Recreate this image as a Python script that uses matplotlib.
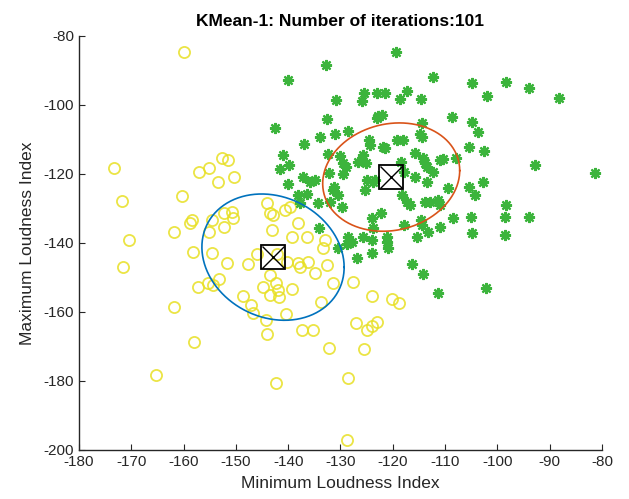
import numpy as np
import matplotlib
matplotlib.use("Agg")
from matplotlib import pyplot as plt

# cluster 1 (yellow circles)
yellow_x = [-159.9, -173.3, -171.8, -170.4, -160.3, -157.1, -155.1, -153.4, -152.7, -151.5,
            -150.4, -158.4, -158.8, -161.8, -155.1, -154.6, -152.3, -152.3, -150.7, -150.5,
            -144.1, -143.5, -140.6, -139.7, -143.1, -138.1, -139.3, -136.4, -133.0, -142.9,
            -171.6, -158.2, -154.6, -151.7, -147.7, -146.0, -157.2, -155.3, -154.4, -153.2,
            -161.8, -148.6, -147.1, -146.7, -144.8, -143.5, -142.3, -141.9, -141.8, -143.5,
            -139.3, -140.2, -144.2, -144.1, -140.4, -138.1, -137.7, -136.2, -134.9, -132.6,
            -133.3, -131.4, -133.7, -137.4, -135.3, -132.2, -158.0, -165.3, -142.3, -142.1,
            -127.6, -124.0, -120.2, -118.8, -127.0, -124.9, -124.0, -123.0, -125.5, -128.6,
            -128.8]
yellow_y = [-84.6, -118.3, -127.8, -139.1, -126.4, -119.4, -118.3, -122.3, -115.4, -115.9,
            -120.9, -133.3, -134.2, -136.8, -136.8, -133.3, -131.3, -135.4, -131.0, -132.8,
            -128.4, -131.3, -130.4, -129.6, -136.2, -134.2, -138.3, -138.3, -139.1, -131.9,
            -147.0, -142.6, -142.9, -145.8, -146.1, -143.2, -152.8, -151.6, -152.2, -150.4,
            -158.6, -155.4, -158.0, -160.3, -152.8, -149.3, -151.6, -153.6, -155.7, -155.1,
            -153.3, -145.5, -162.3, -166.4, -160.6, -145.8, -147.0, -145.5, -148.7, -146.4,
            -141.4, -151.6, -157.1, -165.2, -165.2, -170.4, -168.7, -178.3, -180.6, -143.2,
            -151.3, -155.4, -156.2, -157.4, -163.2, -165.2, -164.1, -162.9, -170.7, -179.1,
            -197.1]

# cluster 2 (green asterisks)
green_x = [-119.4, -132.8, -140.0, -112.3, -104.9, -98.4, -94.0, -88.2, -102.0, -130.9,
           -125.5, -125.9, -123.0, -121.5, -117.3, -118.6, -114.6, -132.6, -122.8, -122.1,
           -123.0, -108.7, -104.9, -103.7, -142.5, -133.9, -131.1, -128.6, -137.0, -124.6,
           -124.4, -119.2, -118.0, -114.8, -114.4, -114.4, -121.9, -121.5, -105.4, -102.6,
           -141.0, -139.8, -141.6, -132.4, -130.1, -125.7, -126.7, -125.1, -129.5, -128.9,
           -115.8, -114.2, -113.5, -113.8, -111.0, -110.4, -107.9, -92.8, -81.3, -137.2,
           -135.8, -134.9, -140.0, -132.2, -129.5, -123.8, -117.9, -115.8, -112.3, -113.5,
           -109.4, -105.4, -102.8, -131.2, -118.4, -124.9, -123.4, -104.3, -138.1, -136.4,
           -137.7, -134.3, -131.4, -130.5, -132.0, -129.7, -125.3, -118.2, -117.3, -116.7,
           -113.8, -112.9, -111.4, -111.0, -98.4, -98.5, -94.0, -105.0, -108.5, -111.0,
           -114.6, -114.4, -113.3, -115.4, -117.9, -122.3, -124.0, -123.8, -125.7, -124.0,
           -121.1, -121.1, -120.9, -124.0, -128.6, -128.8, -127.8, -134.1, -130.5, -126.8,
           -116.3, -114.2, -111.4, -104.9, -98.5, -102.2]
green_y = [-84.6, -88.4, -92.8, -91.9, -93.6, -93.3, -95.1, -98.0, -97.4, -98.6,
           -96.5, -98.8, -96.5, -96.5, -95.9, -98.3, -98.3, -104.1, -103.2, -102.9,
           -103.8, -103.5, -104.9, -107.8, -106.7, -109.3, -108.4, -107.5, -111.3, -110.1,
           -111.6, -110.1, -110.1, -108.4, -109.3, -105.2, -112.2, -112.5, -112.2, -113.3,
           -114.5, -117.4, -118.6, -114.2, -114.8, -114.5, -116.5, -116.8, -116.8, -118.0,
           -113.9, -115.4, -118.0, -116.8, -115.9, -115.7, -115.4, -117.4, -119.7, -120.9,
           -122.3, -121.7, -122.9, -119.7, -120.0, -122.3, -119.4, -120.9, -119.4, -122.3,
           -124.1, -123.8, -122.3, -123.8, -116.5, -121.7, -121.7, -126.1, -126.1, -125.8,
           -128.4, -128.4, -124.6, -126.1, -128.1, -129.6, -124.6, -126.1, -128.1, -129.0,
           -128.1, -128.1, -127.5, -129.0, -129.0, -132.5, -132.5, -132.5, -132.8, -135.4,
           -133.3, -134.8, -136.8, -138.3, -134.8, -131.3, -132.8, -135.7, -138.3, -139.1,
           -138.3, -139.7, -141.4, -142.9, -138.3, -140.3, -139.7, -135.7, -141.4, -144.3,
           -146.1, -149.0, -154.5, -137.1, -137.7, -153.0]

# centroids and ellipse parameters (half width x, half height y, correlation)
centers_x = [-142.9, -120.3]
centers_y = [-144.1, -120.9]
ell_sx = [13.6, 13.1]
ell_sy = [18.3, 15.7]
ell_r = [-0.16, 0.12]
ell_colors = ['#0072bd', '#d95319']

plt.rcParams['font.family'] = ['Liberation Sans', 'DejaVu Sans']
plt.rcParams['axes.unicode_minus'] = False

fig = plt.figure(figsize=(6.29, 4.99), dpi=100)
ax = fig.add_axes([0.1256, 0.0982, 0.8314, 0.8297])

ax.plot(yellow_x, yellow_y, 'o', markersize=8, markerfacecolor='none',
        markeredgecolor='#e8e024', markeredgewidth=1.3, alpha=0.85)
ax.plot(green_x, green_y, linestyle='none', marker=(8, 2, 0), markersize=8,
        markeredgecolor='#3cb43c', markeredgewidth=1.6)

t = np.linspace(0, 2 * np.pi, 200)
for i in range(2):
    ex = centers_x[i] + ell_sx[i] * np.cos(t)
    ey = centers_y[i] + ell_sy[i] * (ell_r[i] * np.cos(t) + np.sqrt(1 - ell_r[i] ** 2) * np.sin(t))
    ax.plot(ex, ey, color=ell_colors[i], linewidth=1.2)

ax.plot(centers_x, centers_y, 's', markersize=17, markerfacecolor='none',
        markeredgecolor='black', markeredgewidth=1.3)
ax.plot(centers_x, centers_y, 'x', markersize=16, color='black', markeredgewidth=1.0)

ax.set_xlim(-180, -80)
ax.set_ylim(-200, -80)
ax.set_xticks(np.arange(-180, -79, 10))
ax.set_yticks(np.arange(-200, -79, 20))
ax.tick_params(direction='in', length=4, labelsize=11, colors='#262626')
for s in ['top', 'right']:
    ax.spines[s].set_visible(False)
for s in ['left', 'bottom']:
    ax.spines[s].set_color('#262626')
    ax.spines[s].set_linewidth(1.0)

ax.set_xlabel('Minimum Loudness Index', fontsize=12.5, color='#262626', labelpad=5)
ax.set_ylabel('Maximum Loudness Index', fontsize=12.5, color='#262626', labelpad=6)
ax.set_title('KMean-1: Number of iterations:101', fontsize=12.5, fontweight='bold', pad=7)

fig.savefig('out.png', dpi=100)
